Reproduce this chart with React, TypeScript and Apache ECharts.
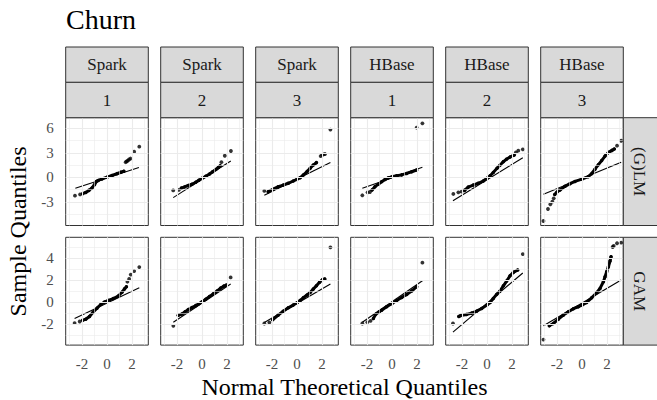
import React, { useEffect, useRef } from "react";
import * as echarts from "echarts";

const FONT = "Liberation Serif";

const systems = ["Spark", "Spark", "Spark", "HBase", "HBase", "HBase"];
const runs = ["1", "2", "3", "1", "2", "3"];
const models = ["(G)LM", "GAM"];
const titleText = "Churn";
const xTitle = "Normal Theoretical Quantiles";
const yTitle = "Sample Quantiles";

const xTickValues = [-2, 0, 2];
const xMinorValues = [-3, -1, 1, 3];
const glmTickValues = [-3, 0, 3, 6];
const glmMinorValues = [-4.5, -1.5, 1.5, 4.5];
const gamTickValues = [-2, 0, 2, 4];
const gamMinorValues = [-3, -1, 1, 3, 5];
const xLimits = [-3.3, 3.3];
const glmLimits = [-5.9, 7.3];
const gamLimits = [-3.9, 5.88];

// ---- (G)LM row ----
const glmSpark1Band = [[-1.95,-2.0],[-1.7,-1.85],[-1.45,-1.6],[-1.2,-1.3],[-1.0,-0.9],[-0.85,-0.5],[-0.7,-0.38],[-0.4,-0.2],[0,0.02],[0.4,0.22],[0.8,0.45],[1.1,0.62],[1.35,0.75]];
const glmSpark1Points = [[-2.56,-2.25],[-2.15,-2.1],[1.49,1.85],[1.57,1.95],[1.66,2.05],[1.76,2.18],[1.88,2.3],[2.17,3.13],[2.58,3.75]];
const glmSpark1Line = [[-2.53,-1.35],[2.55,1.2]];

const glmSpark2Band = [[-1.65,-1.32],[-1.4,-1.18],[-1.1,-1.0],[-0.8,-0.85],[-0.5,-0.6],[-0.25,-0.35],[0,-0.12],[0.3,0.12],[0.6,0.4],[0.85,0.68],[1.1,0.95],[1.3,1.2],[1.45,1.4]];
const glmSpark2Points = [[-2.3,-1.6],[-1.85,-1.55],[1.55,1.85],[1.82,2.64],[2.31,3.22]];
const glmSpark2Line = [[-2.3,-2.49],[2.3,2.0]];

const glmSpark3Band = [[-2.3,-1.76],[-1.9,-1.45],[-1.5,-1.15],[-1.1,-0.95],[-0.7,-0.73],[-0.3,-0.45],[0,-0.24],[0.25,-0.04],[0.5,0.28],[0.8,0.7],[1.05,1.1],[1.3,1.5],[1.55,1.8]];
const glmSpark3Points = [[-2.61,-1.67],[1.89,2.6],[2.0,2.72],[2.12,2.8],[2.24,2.85],[2.67,5.84]];
const glmSpark3Line = [[-2.61,-2.2],[2.67,1.8]];

const glmHBase1Band = [[-1.6,-1.55],[-1.36,-1.14],[-1.09,-0.86],[-0.83,-0.53],[-0.56,-0.26],[-0.29,-0.06],[0,0.08],[0.37,0.2],[0.77,0.3],[1.17,0.48],[1.57,0.68],[1.97,0.9]];
const glmHBase1Points = [[-2.37,-2.2],[-1.95,-1.84],[-1.76,-1.8],[1.97,6.08],[2.43,6.61]];
const glmHBase1Line = [[-2.37,-1.35],[2.43,1.22]];

const glmHBase2Band = [[-1.8,-1.6],[-1.5,-1.2],[-1.1,-0.95],[-0.7,-0.73],[-0.3,-0.45],[0,-0.12],[0.25,0.2],[0.5,0.6],[0.8,1.1],[1.05,1.5],[1.3,1.9],[1.55,2.2],[1.85,2.5],[2.17,2.73]];
const glmHBase2Points = [[-2.69,-2.04],[-2.29,-1.84],[-2.03,-1.76],[2.31,3.06],[2.5,3.26],[2.86,3.43]];
const glmHBase2Line = [[-2.72,-2.86],[2.86,2.4]];

const glmHBase3Band = [[-2.18,-2.1],[-2.0,-1.8],[-1.76,-1.55],[-1.36,-1.1],[-0.96,-0.78],[-0.56,-0.5],[0,-0.22],[0.5,0.08],[0.77,0.45],[1.04,1.0],[1.31,1.55],[1.57,2.05],[1.84,2.6],[2.11,3.05],[2.4,3.3],[2.58,3.46]];
const glmHBase3Points = [[-3.08,-5.35],[-2.72,-3.88],[-2.53,-3.3],[-2.37,-2.98],[-2.26,-2.57],[2.8,3.87],[3.13,4.48]];
const glmHBase3Line = [[-3.08,-2.08],[3.13,1.84]];

// ---- GAM row ----
const gamSpark1Band = [[-1.95,-1.65],[-1.7,-1.55],[-1.4,-1.3],[-1.1,-0.9],[-0.8,-0.55],[-0.5,-0.22],[-0.2,0.0],[0.1,0.15],[0.5,0.32],[0.9,0.55],[1.2,0.9],[1.4,1.2],[1.55,1.4]];
const gamSpark1Points = [[-2.59,-1.9],[-2.18,-1.76],[1.63,1.85],[1.77,2.1],[1.9,2.5],[2.17,2.82],[2.58,3.18]];
const gamSpark1Line = [[-2.59,-1.48],[2.58,1.3]];

const gamSpark2Band = [[-1.9,-1.2],[-1.6,-1.08],[-1.35,-0.88],[-1.1,-0.68],[-0.8,-0.5],[-0.5,-0.32],[-0.25,-0.15],[0,0.03],[0.3,0.26],[0.6,0.5],[0.9,0.75],[1.2,1.0],[1.5,1.28],[1.75,1.45],[1.95,1.55]];
const gamSpark2Points = [[-2.29,-2.15],[2.29,2.24]];
const gamSpark2Line = [[-2.29,-1.82],[2.29,1.64]];

const gamSpark3Band = [[-1.95,-1.6],[-1.5,-1.18],[-1.1,-0.82],[-0.7,-0.52],[-0.3,-0.27],[0,-0.06],[0.25,0.15],[0.5,0.39],[0.8,0.64],[1.05,0.88],[1.3,1.18],[1.55,1.48],[1.8,1.8],[2.05,2.06],[2.22,2.1]];
const gamSpark3Points = [[-2.61,-1.94],[-2.21,-1.85],[2.67,4.97]];
const gamSpark3Line = [[-2.61,-1.85],[2.67,1.64]];

const gamHBase1Band = [[-1.49,-1.48],[-1.3,-1.1],[-1.05,-0.9],[-0.83,-0.73],[-0.43,-0.42],[0,-0.12],[0.37,0.15],[0.77,0.42],[1.17,0.7],[1.57,1.0],[1.97,1.4]];
const gamHBase1Points = [[-2.37,-1.94],[-1.97,-1.82],[-1.71,-1.7],[2.43,3.58]];
const gamHBase1Line = [[-2.37,-1.82],[2.43,1.94]];

const gamHBase2Band = [[-2.25,-1.3],[-2.1,-1.22],[-1.65,-1.12],[-1.23,-1.0],[-0.83,-0.82],[-0.43,-0.58],[0,-0.27],[0.25,-0.03],[0.5,0.33],[0.77,0.7],[1.04,1.0],[1.31,1.48],[1.57,1.91],[1.84,2.39],[2.11,2.7],[2.45,2.91]];
const gamHBase2Points = [[-2.72,-1.94],[2.86,4.36]];
const gamHBase2Line = [[-2.72,-2.72],[2.86,2.64]];

const gamHBase3Band = [[-2.61,-2.15],[-2.29,-1.94],[-1.89,-1.55],[-1.49,-1.18],[-1.09,-0.88],[-0.69,-0.6],[-0.29,-0.42],[0,-0.27],[0.37,-0.03],[0.77,0.39],[1.17,0.85],[1.44,1.24],[1.71,1.85],[1.84,2.3],[1.97,2.76],[2.11,3.21],[2.24,3.73],[2.32,4.12]];
const gamHBase3Points = [[-3.08,-3.4],[2.45,5.0],[2.53,5.1],[2.8,5.34],[3.13,5.39]];
const gamHBase3Line = [[-3.08,-2.15],[3.13,2.0]];

const bands = [
  [glmSpark1Band, glmSpark2Band, glmSpark3Band, glmHBase1Band, glmHBase2Band, glmHBase3Band],
  [gamSpark1Band, gamSpark2Band, gamSpark3Band, gamHBase1Band, gamHBase2Band, gamHBase3Band],
];
const points = [
  [glmSpark1Points, glmSpark2Points, glmSpark3Points, glmHBase1Points, glmHBase2Points, glmHBase3Points],
  [gamSpark1Points, gamSpark2Points, gamSpark3Points, gamHBase1Points, gamHBase2Points, gamHBase3Points],
];
const refLines = [
  [glmSpark1Line, glmSpark2Line, glmSpark3Line, glmHBase1Line, glmHBase2Line, glmHBase3Line],
  [gamSpark1Line, gamSpark2Line, gamSpark3Line, gamHBase1Line, gamHBase2Line, gamHBase3Line],
];

// layout (px)
const COL_LEFT0 = 65.7;
const COL_STEP = 95;
const PANEL_W = 82.6;
const ROW_TOP = [117.7, 237.3];
const PANEL_H = 107.8;
const STRIP_TOP = 47;
const STRIP_H = 35.35;

function txt(size: number) {
  return { fontFamily: FONT, fontSize: size, font: `${size}px "${FONT}"` };
}

function buildOption() {
  const grid: any[] = [];
  const xAxis: any[] = [];
  const yAxis: any[] = [];
  const series: any[] = [];
  const graphic: any[] = [];
  const tickColor = "#333333";
  const labelColor = "#4D4D4D";
  const gridColor = "#EBEBEB";

  for (let r = 0; r < 2; r++) {
    const yTicks = r === 0 ? glmTickValues : gamTickValues;
    const yMinor = r === 0 ? glmMinorValues : gamMinorValues;
    const yLim = r === 0 ? glmLimits : gamLimits;
    for (let c = 0; c < 6; c++) {
      const idx = r * 6 + c;
      grid.push({
        left: COL_LEFT0 + COL_STEP * c,
        top: ROW_TOP[r],
        width: PANEL_W,
        height: PANEL_H,
        show: true,
        backgroundColor: "#FFFFFF",
        borderColor: "#333333",
        borderWidth: 1,
        z: 0,
      });
      xAxis.push({
        gridIndex: idx,
        type: "value",
        min: xLimits[0],
        max: xLimits[1],
        axisLine: { show: false },
        splitLine: { show: false },
        axisTick: {
          show: r === 1,
          length: 4,
          customValues: xTickValues,
          lineStyle: { color: tickColor, width: 1 },
        },
        axisLabel: {
          show: r === 1,
          customValues: xTickValues,
          color: labelColor,
          fontFamily: FONT,
          fontSize: 15,
          margin: 11,
          formatter: (v: number) => String(v),
        },
      });
      yAxis.push({
        gridIndex: idx,
        type: "value",
        min: yLim[0],
        max: yLim[1],
        axisLine: { show: false },
        splitLine: { show: false },
        axisTick: {
          show: c === 0,
          length: 4,
          customValues: yTicks,
          lineStyle: { color: tickColor, width: 1 },
        },
        axisLabel: {
          show: c === 0,
          customValues: yTicks,
          color: labelColor,
          fontFamily: FONT,
          fontSize: 15,
          margin: 12,
          formatter: (v: number) => String(v),
        },
      });
      const gl: any[] = [];
      xMinorValues.forEach((v) => gl.push({ xAxis: v, lineStyle: { color: gridColor, width: 0.6, type: "solid" } }));
      yMinor.forEach((v) => gl.push({ yAxis: v, lineStyle: { color: gridColor, width: 0.6, type: "solid" } }));
      xTickValues.forEach((v) => gl.push({ xAxis: v, lineStyle: { color: gridColor, width: 1.1, type: "solid" } }));
      yTicks.forEach((v) => gl.push({ yAxis: v, lineStyle: { color: gridColor, width: 1.1, type: "solid" } }));
      series.push({
        type: "line",
        xAxisIndex: idx,
        yAxisIndex: idx,
        data: [],
        silent: true,
        symbol: "none",
        z: 1,
        markLine: {
          silent: true,
          symbol: ["none", "none"],
          label: { show: false },
          animation: false,
          data: gl,
        },
      });
      series.push({
        type: "line",
        xAxisIndex: idx,
        yAxisIndex: idx,
        data: refLines[r][c],
        symbol: "none",
        silent: true,
        lineStyle: { color: "#000000", width: 1.1 },
        z: 3,
      });
      series.push({
        type: "line",
        xAxisIndex: idx,
        yAxisIndex: idx,
        data: bands[r][c],
        symbol: "circle",
        showSymbol: true,
        symbolSize: 3.5,
        silent: true,
        itemStyle: { color: "#000000" },
        lineStyle: { color: "#000000", width: 3, join: "round", cap: "round" },
        z: 4,
      });
      series.push({
        type: "scatter",
        xAxisIndex: idx,
        yAxisIndex: idx,
        data: points[r][c],
        symbol: "circle",
        symbolSize: 3.8,
        silent: true,
        itemStyle: { color: "#000000" },
        z: 4,
      });
    }
  }

  // top strips
  for (let c = 0; c < 6; c++) {
    const x = COL_LEFT0 + COL_STEP * c;
    [systems[c], runs[c]].forEach((label, k) => {
      const y = STRIP_TOP + STRIP_H * k;
      graphic.push({
        type: "rect",
        shape: { x, y, width: PANEL_W, height: STRIP_H },
        style: { fill: "#D9D9D9", stroke: "#333333", lineWidth: 1 },
        z: 10,
      });
      graphic.push({
        type: "text",
        x: x + PANEL_W / 2,
        y: y + STRIP_H / 2,
        style: {
          text: label,
          fill: "#1A1A1A",
          ...txt(17),
          textAlign: "center",
          align: "center",
          textVerticalAlign: "middle",
          verticalAlign: "middle",
        },
        z: 11,
      });
    });
  }
  // right strips
  const rightX = COL_LEFT0 + COL_STEP * 5 + PANEL_W;
  for (let r = 0; r < 2; r++) {
    graphic.push({
      type: "rect",
      shape: { x: rightX, y: ROW_TOP[r], width: 36, height: PANEL_H },
      style: { fill: "#D9D9D9", stroke: "#333333", lineWidth: 1 },
      z: 10,
    });
    graphic.push({
      type: "text",
      x: rightX + 16.5,
      y: ROW_TOP[r] + PANEL_H / 2,
      rotation: -Math.PI / 2,
      style: {
        text: models[r],
        fill: "#1A1A1A",
        ...txt(17),
        textAlign: "center",
        align: "center",
        textVerticalAlign: "middle",
        verticalAlign: "middle",
      },
      z: 11,
    });
  }
  // title
  graphic.push({
    type: "text",
    x: 66,
    y: 19,
    style: {
      text: titleText,
      fill: "#000000",
      ...txt(28),
      textAlign: "left",
      align: "left",
      textVerticalAlign: "middle",
      verticalAlign: "middle",
    },
  });
  // x title
  graphic.push({
    type: "text",
    x: (COL_LEFT0 + rightX) / 2,
    y: 387,
    style: {
      text: xTitle,
      fill: "#000000",
      ...txt(24),
      textAlign: "center",
      align: "center",
      textVerticalAlign: "middle",
      verticalAlign: "middle",
    },
  });
  // y title
  graphic.push({
    type: "text",
    x: 18,
    y: (ROW_TOP[0] + ROW_TOP[1] + PANEL_H) / 2,
    rotation: Math.PI / 2,
    style: {
      text: yTitle,
      fill: "#000000",
      ...txt(24),
      textAlign: "center",
      align: "center",
      textVerticalAlign: "middle",
      verticalAlign: "middle",
    },
  });

  return {
    animation: false,
    backgroundColor: "#FFFFFF",
    textStyle: { fontFamily: FONT },
    grid,
    xAxis,
    yAxis,
    series,
    graphic: { elements: graphic },
  };
}

export default function App() {
  const ref = useRef<HTMLDivElement>(null);
  useEffect(() => {
    if (!ref.current) return;
    const chart = echarts.init(ref.current, null, { renderer: "svg" });
    chart.setOption(buildOption() as any);
    return () => {
      chart.dispose();
    };
  }, []);
  return (
    <div
      ref={ref}
      style={{ position: "fixed", left: 0, top: 0, width: 657, height: 400, background: "#FFFFFF" }}
    />
  );
}
